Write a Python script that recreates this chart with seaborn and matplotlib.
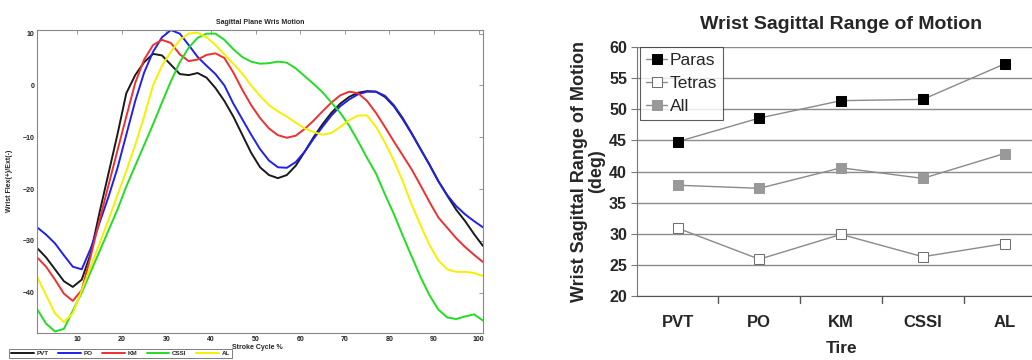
import numpy as np
import pandas as pd
import matplotlib
matplotlib.use('Agg')
import matplotlib.pyplot as plt
import seaborn as sns

# left panel: wrist angle over the stroke cycle, one curve per tire
cycle = [1, 3, 5, 7, 9, 11, 13, 15, 17, 19, 21, 23, 25, 27, 29, 31, 33, 35, 37, 39,
         41, 43, 45, 47, 49, 51, 53, 55, 57, 59, 61, 63, 65, 67, 69, 71, 73, 75, 77, 79,
         81, 83, 85, 87, 89, 91, 93, 95, 97, 99, 101]

pvt = [-31.4, -33.2, -35.5, -37.8, -38.9, -37.5, -32.5, -24.5, -17.0, -9.5,
       -1.5, 2.0, 4.5, 6.1, 5.8, 4.0, 2.2, 2.0, 2.4, 1.5,
       -0.5, -3.0, -6.0, -9.5, -13.0, -15.8, -17.3, -17.9, -17.3, -15.5,
       -12.8, -10.0, -7.5, -5.3, -3.5, -2.2, -1.4, -1.1, -1.2, -2.2,
       -4.0, -6.5, -9.3, -12.3, -15.3, -18.5, -21.3, -24.0, -26.2, -28.7, -31.0]

po = [-27.4, -28.8, -30.5, -32.8, -35.0, -35.5, -31.5, -26.5, -21.5, -16.0,
      -9.5, -3.0, 2.5, 6.5, 9.3, 10.7, 10.0, 7.8, 5.5, 3.8,
      2.2, 0.0, -3.5, -6.5, -9.5, -12.3, -14.5, -15.8, -15.9, -14.8,
      -12.8, -10.3, -8.0, -5.8, -4.0, -2.7, -1.7, -1.2, -1.2, -2.0,
      -3.8, -6.3, -9.2, -12.3, -15.3, -18.5, -21.2, -23.3, -24.9, -26.2, -27.4]

km = [-33.2, -35.0, -37.5, -40.2, -41.6, -39.5, -33.0, -26.0, -19.3, -12.6,
      -6.0, 0.5, 5.0, 7.8, 8.8, 8.2, 6.0, 4.7, 5.0, 5.9,
      6.2, 5.3, 2.5, -0.8, -3.8, -6.3, -8.3, -9.6, -10.1, -9.7,
      -8.4, -6.8, -5.0, -3.3, -1.9, -1.2, -1.5, -3.0, -5.3, -8.0,
      -10.8, -13.5, -16.2, -19.3, -22.5, -25.5, -27.5, -29.5, -31.2, -32.7, -34.1]

cssi = [-43.2, -46.0, -47.5, -47.0, -43.5, -40.0, -36.0, -32.0, -28.0, -24.0,
        -19.5, -15.5, -11.5, -7.5, -3.3, 0.8, 4.5, 7.3, 9.2, 10.0,
        10.0, 8.8, 7.0, 5.5, 4.6, 4.2, 4.3, 4.6, 4.4, 3.3,
        1.8, 0.3, -1.3, -3.3, -5.3, -7.8, -10.8, -14.0, -17.0, -21.0,
        -24.8, -29.0, -33.0, -37.0, -40.5, -43.3, -44.8, -45.1, -44.6, -44.2, -45.4]

al = [-37.0, -40.5, -44.0, -45.7, -44.0, -39.5, -35.0, -30.5, -26.0, -21.2,
      -16.5, -11.5, -6.0, 0.0, 3.8, 6.5, 8.8, 10.0, 10.2, 9.3,
      7.8, 6.0, 4.2, 2.3, 0.0, -2.0, -3.8, -5.0, -6.0, -7.2,
      -8.3, -9.0, -9.5, -9.2, -8.0, -6.7, -5.8, -5.8, -8.0, -11.0,
      -14.5, -18.5, -23.0, -27.0, -30.8, -33.8, -35.5, -36.0, -36.0, -36.2, -36.8]

curve_names = ['PVT', 'PO', 'KM', 'CSSI', 'AL']
curve_colors = ['#1a1a1a', '#2020ee', '#ee3030', '#22dd22', '#f5f000']

# right panel: range of motion per tire
tires = ['PVT', 'PO', 'KM', 'CSSI', 'AL']
paras = [44.8, 48.6, 51.4, 51.6, 57.3]
tetras = [30.9, 25.9, 29.9, 26.3, 28.4]
all_rom = [37.8, 37.3, 40.6, 38.9, 42.9]

sns.set_style('white')
plt.rcParams['font.family'] = ['Liberation Sans', 'DejaVu Sans']

fig = plt.figure(figsize=(10.32, 3.6), dpi=100)

# ---------------- left panel ----------------
ax1 = fig.add_axes([0.036, 0.075, 0.432, 0.843])
rows = []
for name, vals in zip(curve_names, [pvt, po, km, cssi, al]):
    for c, v in zip(cycle, vals):
        rows.append({'cycle': c, 'angle': v, 'tire': name})
df = pd.DataFrame(rows)

sns.lineplot(data=df, x='cycle', y='angle', hue='tire', hue_order=curve_names,
             palette=dict(zip(curve_names, curve_colors)), linewidth=1.4,
             ax=ax1, legend=False)
ax1.set_xlim(1, 101)
ax1.set_ylim(-47.8, 10.8)
ax1.set_xticks(range(10, 101, 10))
ax1.set_yticks([10, 0, -10, -20, -30, -40])
ax1.tick_params(axis='both', direction='in', length=3, width=0.6, color='#888888',
                labelsize=5, top=True, right=True, pad=2)
for lab in ax1.get_xticklabels() + ax1.get_yticklabels():
    lab.set_fontweight('bold')
    lab.set_color('#222222')
for sp in ax1.spines.values():
    sp.set_color('#888888')
    sp.set_linewidth(0.8)
ax1.set_xlabel('')
ax1.set_ylabel('Wrist Flex(+)/Ext(-)', fontsize=5, fontweight='bold', labelpad=7)
ax1.set_title('Sagittal Plane Wris Motion', fontsize=5, fontweight='bold', pad=4)
fig.text(0.225, 0.036, 'Stroke Cycle %', fontsize=5, fontweight='bold',
         ha='left', va='center')

handles = [plt.Line2D([], [], color=c, lw=1.4) for c in curve_colors]
leg1 = fig.legend(handles, curve_names, loc='upper left', bbox_to_anchor=(0.006, 0.04),
                  ncol=5, frameon=True, fancybox=False, edgecolor='#444444',
                  handlelength=3.6, handletextpad=0.4, columnspacing=1.6,
                  borderpad=0.3, prop={'weight': 'bold', 'size': 4.5})
leg1.get_frame().set_linewidth(0.6)

# ---------------- right panel ----------------
ax2 = fig.add_axes([0.617, 0.178, 0.396, 0.691])
line_gray = '#8a8a8a'
sns.lineplot(x=tires, y=paras, sort=False, ax=ax2, color=line_gray, lw=1,
             marker='s', markersize=6.5, markerfacecolor='black', markeredgecolor='black',
             label='Paras')
sns.lineplot(x=tires, y=tetras, sort=False, ax=ax2, color=line_gray, lw=1,
             marker='s', markersize=6.5, markerfacecolor='white', markeredgecolor='#707070',
             label='Tetras')
sns.lineplot(x=tires, y=all_rom, sort=False, ax=ax2, color=line_gray, lw=1,
             marker='s', markersize=6.5, markerfacecolor='#999999', markeredgecolor='#999999',
             label='All')

ax2.set_xlim(-0.5, 4.5)
ax2.set_ylim(20, 60)
ax2.set_yticks(range(20, 61, 5))
ax2.yaxis.grid(True, color='#8c8c8c', linewidth=1)
ax2.set_axisbelow(True)
ax2.spines['top'].set_visible(False)
ax2.spines['right'].set_visible(False)
ax2.spines['left'].set_color('#777777')
ax2.spines['bottom'].set_color('#555555')
ax2.tick_params(axis='y', left=True, length=4, color='#777777', labelsize=11.5, pad=3)
ax2.tick_params(axis='x', bottom=False, labelsize=12, pad=10)
for b in np.arange(0.5, 4.5, 1.0):
    ax2.axvline(b, ymin=-0.03, ymax=0, color='#555555', lw=1, clip_on=False)
for lab in ax2.get_xticklabels() + ax2.get_yticklabels():
    lab.set_fontweight('bold')
ax2.set_xlabel('Tire', fontsize=12.5, fontweight='bold', labelpad=8)
ax2.set_ylabel('Wrist Sagittal Range of Motion\n(deg)', fontsize=13,
               fontweight='bold', labelpad=3, linespacing=1.0)
ax2.set_title('Wrist Sagittal Range of Motion', fontsize=14, fontweight='bold', pad=13,
              x=0.5)
leg2 = ax2.legend(loc='upper left', bbox_to_anchor=(0.008, 1.0), fontsize=12.5,
                  frameon=True, fancybox=False, edgecolor='#333333', handlelength=1.2,
                  handletextpad=0.15, labelspacing=0.45, borderpad=0.35, borderaxespad=0)
leg2.get_frame().set_linewidth(0.8)

fig.savefig('out.png', dpi=100)
